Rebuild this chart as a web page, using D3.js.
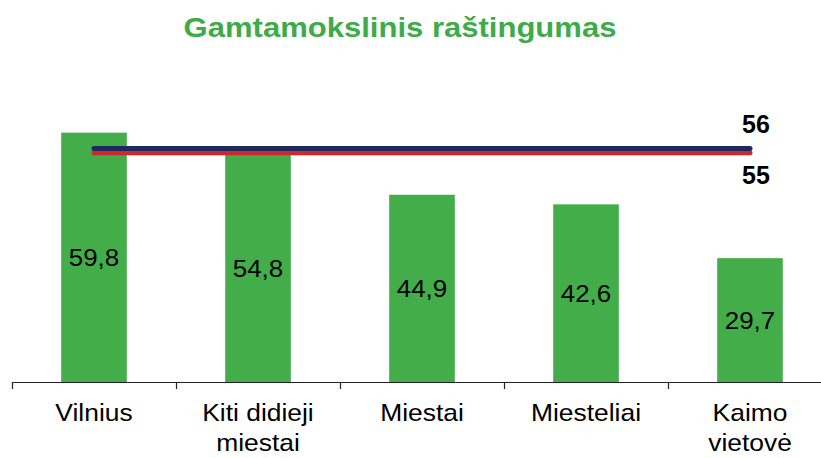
<!DOCTYPE html>
<html><head><meta charset="utf-8">
<script src="https://cdn.jsdelivr.net/npm/d3@7"></script>
<style>body{margin:0;background:#fff}svg{display:block;font-family:"Liberation Sans",Arial,sans-serif}</style>
</head><body>
<svg id="c" width="821" height="458"></svg>
<script>
const title = "Gamtamokslinis raštingumas";
const categories = [["Vilnius"], ["Kiti didieji", "miestai"], ["Miestai"], ["Miesteliai"], ["Kaimo", "vietovė"]];
const values = [59.8, 54.8, 44.9, 42.6, 29.7];
const valueLabels = ["59,8", "54,8", "44,9", "42,6", "29,7"];
const refLines = [{value: 55, label: "55", color: "#D0262D"}, {value: 56, label: "56", color: "#1F2A5C"}];

const svg = d3.select("#c");
const green = "#43AD4A";
const x = d3.scaleBand().domain(d3.range(categories.length)).range([12, 832]).paddingInner(0).paddingOuter(0);
const y = d3.scaleLinear().domain([0, 70]).range([382, 382 - 70 * 4.17]);
const bw = x.bandwidth() * 0.4;

svg.append("text").attr("transform", "translate(400,37) scale(1.15,1)")
  .attr("text-anchor", "middle").attr("font-size", 27).attr("font-weight", "bold")
  .attr("fill", "#3DAB49").text(title);

svg.selectAll("rect.bar").data(values).enter().append("rect")
  .attr("x", (d, i) => x(i) + x.bandwidth() / 2 - bw / 2)
  .attr("y", d => y(d)).attr("width", bw).attr("height", d => y(0) - y(d))
  .attr("fill", green);

svg.selectAll("text.val").data(values).enter().append("text")
  .attr("transform", (d, i) => `translate(${x(i) + x.bandwidth() / 2},${(y(d) + y(0)) / 2 + 9}) scale(1.08,1)`)
  .attr("text-anchor", "middle").attr("font-size", 24).attr("fill", "#000")
  .text((d, i) => valueLabels[i]);

// axis
const ax = svg.append("g");
ax.append("line").attr("x1", 12).attr("x2", 821).attr("y1", y(0) + 0.5).attr("y2", y(0) + 0.5).attr("stroke", "#222").attr("stroke-width", 1.2);
ax.selectAll("line.t").data(d3.range(categories.length)).enter().append("line")
  .attr("x1", i => x(i) + 0.5).attr("x2", i => x(i) + 0.5)
  .attr("y1", y(0)).attr("y2", y(0) + 7).attr("stroke", "#222").attr("stroke-width", 1.2);

categories.forEach((lines, i) => {
  lines.forEach((t, j) => {
    svg.append("text").attr("transform", `translate(${x(i) + x.bandwidth() / 2},${421 + j * 29.5}) scale(1.1,1)`)
      .attr("text-anchor", "middle").attr("font-size", 24).attr("fill", "#000").text(t);
  });
});

// reference lines
const xs = x(0) + x.bandwidth() / 2, xe = x(categories.length - 1) + x.bandwidth() / 2;
refLines.forEach(r => {
  svg.append("line").attr("x1", xs).attr("x2", xe).attr("y1", y(r.value)).attr("y2", y(r.value))
    .attr("stroke", r.color).attr("stroke-width", 5).attr("stroke-linecap", "round");
});
const hi = refLines[1], lo = refLines[0];
svg.append("text").attr("x", xe + 6).attr("y", y(hi.value) - 15).attr("text-anchor", "middle")
  .attr("font-size", 25).attr("font-weight", "bold").attr("fill", "#000").text(hi.label);
svg.append("text").attr("x", xe + 6).attr("y", y(lo.value) + 31).attr("text-anchor", "middle")
  .attr("font-size", 25).attr("font-weight", "bold").attr("fill", "#000").text(lo.label);
</script>
</body></html>
